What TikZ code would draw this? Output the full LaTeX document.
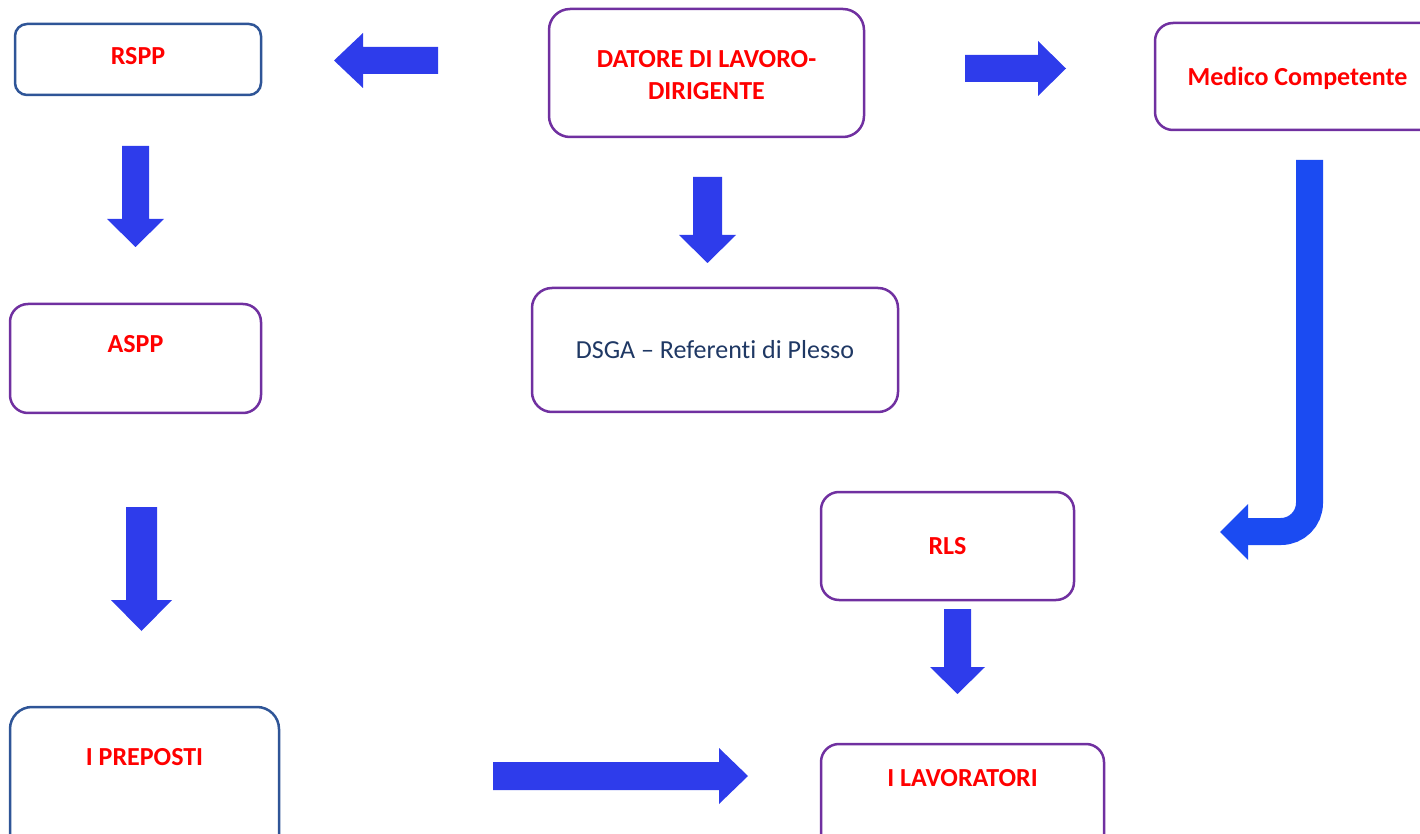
\documentclass[tikz,border=0pt]{standalone}
\usepackage{fontspec}
\setmainfont{Carlito}[Ligatures=NoCommon]
\definecolor{boxblue}{RGB}{47,85,151}
\definecolor{boxpurple}{RGB}{112,48,160}
\definecolor{arrowblue}{RGB}{46,60,235}
\definecolor{bendblue}{RGB}{27,75,242}
\definecolor{navytext}{RGB}{31,56,100}
% block arrow pointing right from the origin: #1 options, #2 length,
% #3 half shaft, #4 half head, #5 head length
\newcommand{\blockarrow}[5]{%
  \fill[#1] (0,-#3) -- ({#2-#5},-#3) -- ({#2-#5},-#4) -- (#2,0)
    -- ({#2-#5},#4) -- ({#2-#5},#3) -- (0,#3) -- cycle;}
\begin{document}
\begin{tikzpicture}
    [x=0.5pt, y=-0.5pt,
    lbl/.style={font=\fontsize{13}{16}\selectfont\bfseries, text=red, align=center},
    box/.style={draw, line width=1.25pt, fill=white, inner sep=0pt, lbl},
    bluebox/.style={box, draw=boxblue},
    purplebox/.style={box, draw=boxpurple},
    blockarr/.style={fill=arrowblue}]
    \useasboundingbox (0,0) rectangle (1420,834);
    \clip (0,0) rectangle (1420,834);
    % boxes
    \node[bluebox, minimum width=123pt, minimum height=35.5pt, rounded corners=6pt,
      label={[lbl, yshift=1.5pt]center:RSPP}]
      (rspp) at (138,59.5) {};
    \node[purplebox, minimum width=157.5pt, minimum height=64pt, rounded corners=10.5pt,
      label={[lbl, yshift=-1.2pt]center:DATORE DI LAVORO-\\DIRIGENTE}]
      (datore) at (706.5,73) {};
    \node[purplebox, minimum width=142.5pt, minimum height=53.5pt, rounded corners=9pt,
      text depth=0pt]
      (medico) at (1297.5,76.5) {Medico Competente};
    \node[purplebox, minimum width=125.5pt, minimum height=54.5pt, rounded corners=9pt,
      label={[lbl, yshift=7.25pt]center:ASPP}]
      (aspp) at (135.5,358.5) {};
    \node[purplebox, minimum width=183pt, minimum height=62pt, rounded corners=10pt,
      font=\fontsize{13}{16}\selectfont, text=navytext]
      (dsga) at (715,350) {DSGA -- Referenti di Plesso};
    \node[purplebox, minimum width=126.5pt, minimum height=54pt, rounded corners=9pt]
      (rls) at (947.5,546) {RLS};
    \node[bluebox, minimum width=134.5pt, minimum height=76.5pt, rounded corners=11pt,
      label={[lbl, yshift=13.25pt]center:I PREPOSTI}]
      (preposti) at (144.5,783.5) {};
    \node[purplebox, minimum width=141.5pt, minimum height=58pt, rounded corners=9pt,
      label={[lbl, yshift=12pt]center:I LAVORATORI}]
      (lavoratori) at (962.5,802) {};
    % arrows
    \blockarrow{blockarr, shift={(438,60.5)}, rotate=180}{104}{13.5}{27.5}{29}
    \blockarrow{blockarr, shift={(965,68.5)}}{101}{13.5}{27.5}{28}
    \blockarrow{blockarr, shift={(135.5,146)}, rotate=-90}{101}{13.5}{28.5}{28}
    \blockarrow{blockarr, shift={(707.5,177)}, rotate=-90}{86}{14.5}{28.5}{28}
    \blockarrow{blockarr, shift={(141.5,507)}, rotate=-90}{124}{15.5}{30.5}{31}
    \blockarrow{blockarr, shift={(957.5,609)}, rotate=-90}{85}{13.5}{27.5}{27}
    \blockarrow{blockarr, shift={(493,776)}}{255}{14}{28}{29}
    \draw[bendblue, line width=13.5pt, rounded corners=14.25pt] (1309.5,160) |- (1247,531.5);
    \fill[bendblue] (1248,504) -- (1220,532) -- (1248,560) -- cycle;
  \end{tikzpicture}
\end{document}
